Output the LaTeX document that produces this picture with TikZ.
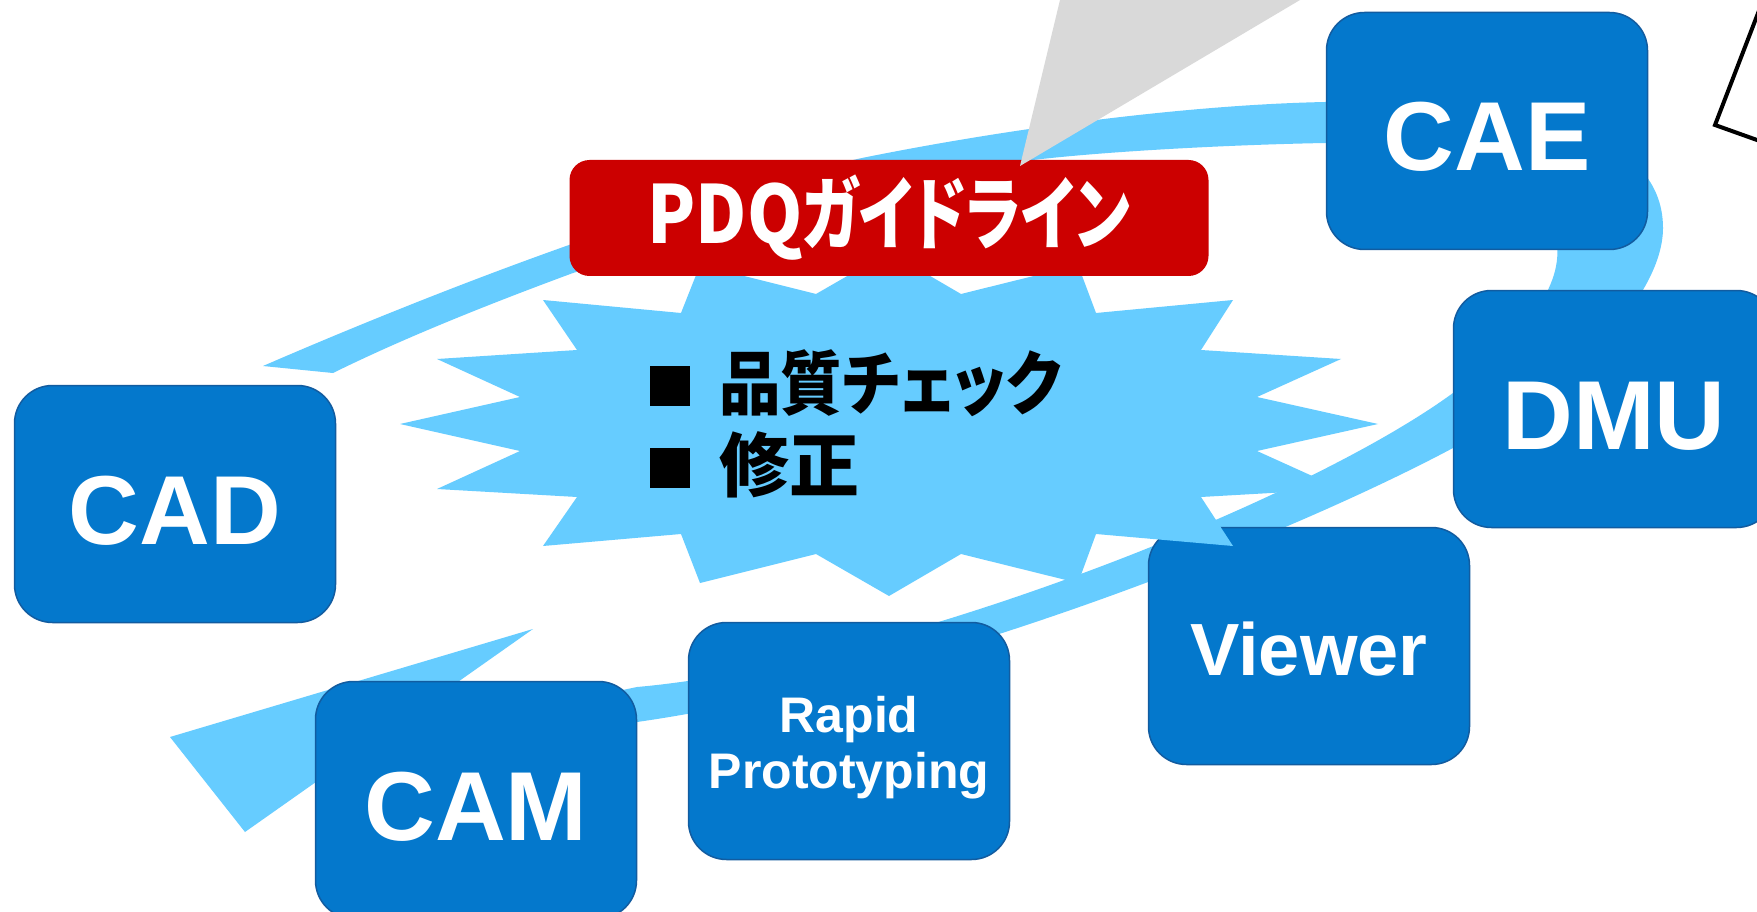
\documentclass[tikz,border=0pt]{standalone}
\usepackage{fontspec}
\setmainfont{Noto Sans CJK JP}
\newfontfamily\jp{Noto Sans CJK JP}[RawFeature=+palt]
\newfontfamily\lat{Liberation Sans}
\definecolor{boxblue}{RGB}{4,120,204}
\definecolor{boxedge}{RGB}{18,92,160}
\definecolor{bandblue}{RGB}{102,204,255}
\definecolor{pdqred}{RGB}{204,0,0}
\definecolor{pointergray}{RGB}{217,217,217}
\begin{document}
\begin{tikzpicture}[x=1pt,y=-1pt,
  toolbox/.style={draw=boxedge, line width=1.5pt, fill=boxblue, rounded corners=38pt,
    text=white, align=center, inner sep=0pt,
    minimum width=321pt, minimum height=237pt},
  bigtext/.style={font=\lat\bfseries\fontsize{98pt}{98pt}\selectfont,
    text height=80pt, text depth=0pt},
  boxlabel/.style={text=white, align=center, inner sep=0pt},
  redbox/.style={fill=pdqred, rounded corners=20pt, text=white, inner sep=0pt,
    minimum width=639pt, minimum height=116pt,
    font=\jp\bfseries\fontsize{80pt}{80pt}\selectfont},
  startext/.style={anchor=west, inner sep=0pt, text=black,
    font=\jp\bfseries\fontsize{70pt}{70pt}\selectfont}
]
\useasboundingbox (0,0) rectangle (1757,912);
\clip (0,0) rectangle (1757,912);
\fill[white] (0,0) rectangle (1757,912);

% swoosh band (outer edge, then inner edge back)
\fill[bandblue]
  (263,366) .. controls (450,285) and (680,198) .. (862,158)
  .. controls (1000,130) and (1180,105) .. (1325,102)
  .. controls (1520,95) and (1663,130) .. (1663,228)
  .. controls (1663,300) and (1560,400) .. (1453,448)
  .. controls (1290,535) and (930,680) .. (637,722)
  -- (360,778) -- (360,745) -- (637,687)
  .. controls (887,665) and (1300,505) .. (1453,393)
  .. controls (1520,340) and (1562,290) .. (1557,245)
  .. controls (1552,180) and (1450,143) .. (1325,143)
  .. controls (1220,145) and (1100,152) .. (1033,160)
  .. controls (850,195) and (700,235) .. (573,273)
  .. controls (500,300) and (410,335) .. (333,373)
  -- cycle;
\fill[bandblue] (170,737) -- (533,629) -- (245,832) -- cycle;

% tool boxes
\node[toolbox, bigtext] (cad) at (175,504) {CAD};
\node[toolbox, bigtext] (cam) at (476,800) {CAM};
\node[toolbox] (rp) at (849,741) {};
\node[boxlabel, font=\lat\bfseries\fontsize{50pt}{56pt}\selectfont] (rptext) at ([yshift=-7pt]rp.center) {Rapid\\Prototyping};
\node[toolbox, font=\lat\bfseries\fontsize{74pt}{74pt}\selectfont, text height=58pt, text depth=0pt] (viewer) at (1309,646) {Viewer};
\node[toolbox, bigtext] (cae) at (1487,131) {CAE};
\node[toolbox, bigtext] (dmu) at (1614,409) {DMU};

% burst
\fill[bandblue] (889,252) -- (961,294) -- (1078,265) -- (1096,313) -- (1233,300) -- (1201,350)
  -- (1341,359) -- (1257,397) -- (1378,424) -- (1257,451) -- (1341,489) -- (1201,497)
  -- (1233,546) -- (1096,534) -- (1078,583) -- (961,554) -- (889,596) -- (816,554)
  -- (700,583) -- (681,534) -- (543,546) -- (577,497) -- (437,489) -- (520,451)
  -- (400,424) -- (520,397) -- (437,359) -- (577,350) -- (543,300) -- (681,313)
  -- (700,265) -- (816,294) -- cycle;
\node[startext] (check1) at (645,383) {\raisebox{4pt}{\fontsize{50pt}{50pt}\selectfont ■}\hspace{24pt}\scalebox{0.88}[1]{品質チェック}};
\node[startext] (check2) at (645,465) {\raisebox{4pt}{\fontsize{50pt}{50pt}\selectfont ■}\hspace{24pt}修正};

% guideline box
\node[redbox] (pdq) at (889,218) {\scalebox{0.88}[1]{PDQ\scalebox{0.855}[1]{ガイドライン}}};

% callout pointer
\fill[pointergray] (1060,0) -- (1300,0) -- (1020,166) -- cycle;

% partial sheet at top right
\draw[line width=4pt, fill=white] (1715,125) -- (1770,-18) -- (1896,27) -- (1841,170) -- cycle;
\end{tikzpicture}
\end{document}
